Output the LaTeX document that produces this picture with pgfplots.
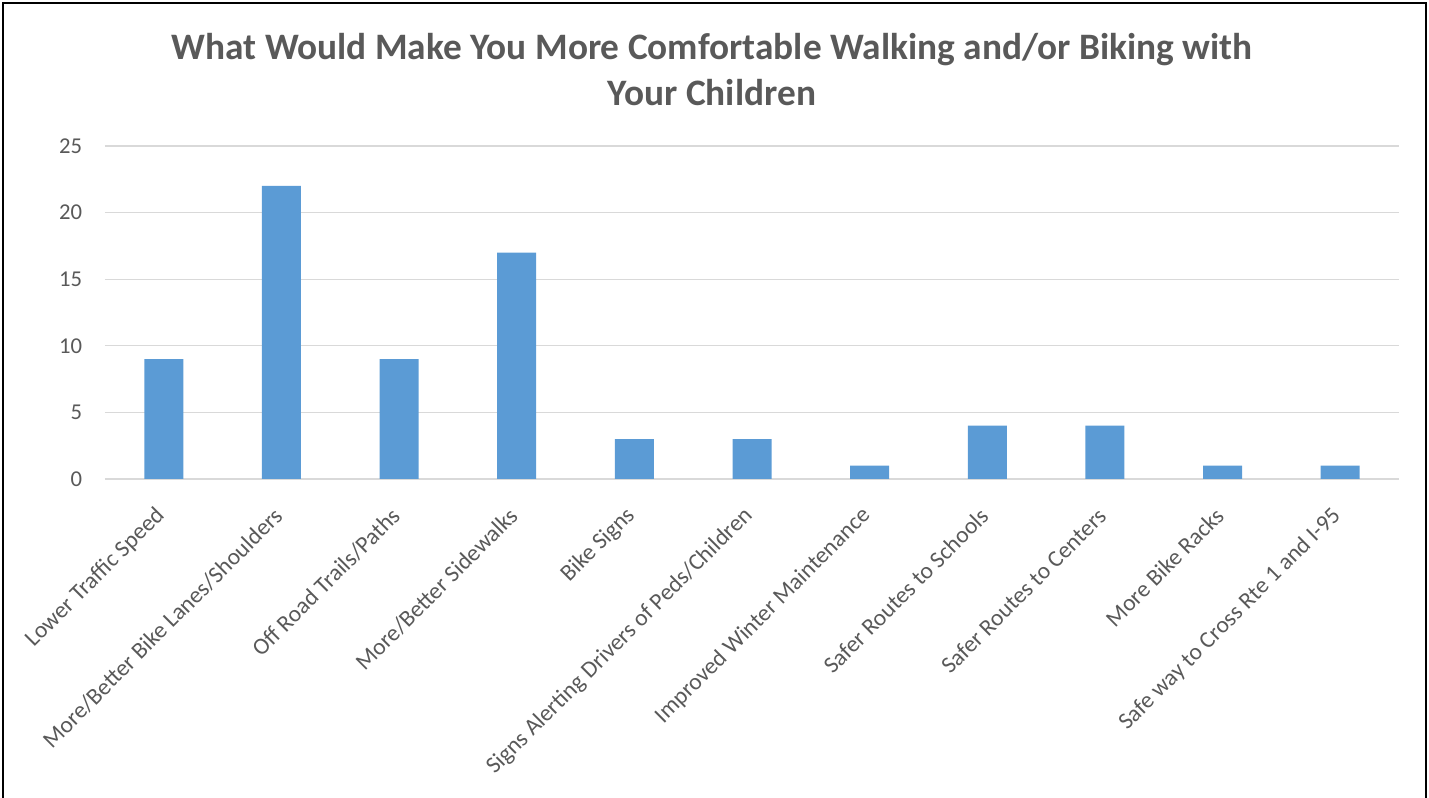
\documentclass[border=0pt]{standalone}
\usepackage{pgfplots}
\pgfplotsset{compat=1.18}
\usepackage{fontspec}
\setmainfont{Carlito}
\definecolor{barblue}{HTML}{5B9BD5}
\definecolor{txtgray}{HTML}{595959}
\definecolor{gridgray}{HTML}{D9D9D9}
\begin{document}
\begin{tikzpicture}[x=0.75pt,y=0.75pt]
\useasboundingbox (0,0) rectangle (1429,798);
\draw[black,line width=1.5pt] (3,-10) -- (3,795) -- (1426,795) -- (1426,-10);
\node[anchor=base,text=txtgray,font=\bfseries\fontsize{28}{32}\selectfont] at (712,738) {What Would Make You More Comfortable Walking and/or Biking with};
\node[anchor=base,text=txtgray,font=\bfseries\fontsize{28}{32}\selectfont] at (712,692) {Your Children};
\begin{axis}[
  at={(78.75pt,239.25pt)}, anchor=south west,
  scale only axis, width=970.5pt, height=249.75pt,
  xmin=-0.5, xmax=10.5, ymin=0, ymax=25,
  axis line style={draw=none},
  major tick length=0pt,
  ytick={0,5,10,15,20,25},
  ymajorgrids, grid style={gridgray, line width=0.9pt},
  xtick={0,...,10},
  xticklabels={Lower Traffic Speed, More/Better Bike Lanes/Shoulders, Off Road Trails/Paths, More/Better Sidewalks, Bike Signs, Signs Alerting Drivers of Peds/Children, Improved Winter Maintenance, Safer Routes to Schools, Safer Routes to Centers, More Bike Racks, Safe way to Cross Rte 1 and I-95},
  xticklabel style={rotate=45, anchor=east, inner sep=0pt, yshift=-16pt, xshift=-19pt, text=txtgray, font=\fontsize{17.6}{19}\selectfont},
  yticklabel style={anchor=east, inner sep=0pt, xshift=-17pt, text=txtgray, font=\fontsize{17}{19}\selectfont},
  /pgf/number format/assume math mode=true,
  clip=false,
]
\addplot[ybar, bar width=29.25pt, bar shift=0pt, fill=barblue, draw=none] coordinates {
(0,9) (1,22) (2,9) (3,17) (4,3) (5,3) (6,1) (7,4) (8,4) (9,1) (10,1)};
\end{axis}
\end{tikzpicture}
\end{document}
